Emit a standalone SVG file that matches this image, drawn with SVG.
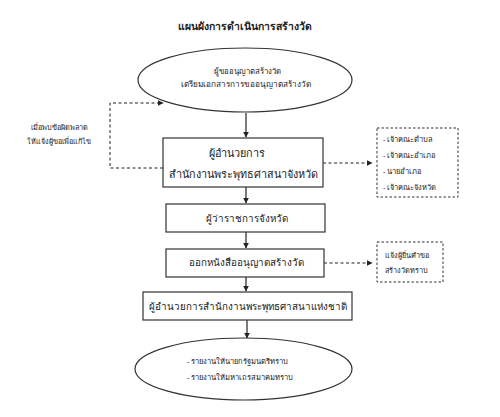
<svg xmlns="http://www.w3.org/2000/svg" width="500" height="417" viewBox="0 0 500 417">
<defs>
<marker id="ah" viewBox="0 0 10 10" refX="9" refY="5" markerWidth="6" markerHeight="6" orient="auto" markerUnits="userSpaceOnUse"><path d="M0,0 L10,5 L0,10 z" fill="#222"/></marker>
<style>
text{font-family:"Noto Sans","DejaVu Sans",sans-serif;fill:#222;font-size:8px}
.t{font-size:10.4px;font-weight:bold;text-anchor:middle}
.m{text-anchor:middle}
.b2{font-size:10.8px;text-anchor:middle}
.big{font-size:9.8px;text-anchor:middle}
.sm{font-size:7.5px}
.box{fill:#fff;stroke:#333;stroke-width:1.2}
.dbox{fill:#fff;stroke:#333;stroke-width:1;stroke-dasharray:2.5,2}
.c{stroke:#222;stroke-width:1.2;fill:none;marker-end:url(#ah)}
.d{stroke:#222;stroke-width:1;fill:none;stroke-dasharray:3,2.5}
</style>
</defs>
<rect width="500" height="417" fill="#fff"/>
<text class="t" x="245" y="30">แผนผังการดำเนินการสร้างวัด</text>

<g id="connectors">
<line class="c" x1="246" y1="113" x2="246" y2="137"/>
<line class="c" x1="246" y1="187" x2="246" y2="203"/>
<line class="c" x1="246" y1="232" x2="246" y2="248"/>
<line class="c" x1="246" y1="277" x2="246" y2="291"/>
<line class="c" x1="247" y1="320" x2="247" y2="338"/>
<polyline class="d" points="163,168 110,168 110,103 163,103" marker-end="url(#ah)"/>
<line class="d" x1="323" y1="163" x2="372" y2="163" marker-end="url(#ah)"/>
<line class="d" x1="324" y1="263" x2="372" y2="263" marker-end="url(#ah)"/>
</g>

<g id="n1">
<ellipse cx="245" cy="80" rx="107" ry="32" fill="#fff" stroke="#333" stroke-width="1.2"/>
<text class="m" x="247" y="74" style="font-size:7.8px">ผู้ขออนุญาตสร้างวัด</text>
<text class="m" x="246" y="87" style="font-size:8.2px">เตรียมเอกสารการขออนุญาตสร้างวัด</text>
</g>

<g id="note">
<text class="sm m" x="59" y="130" style="font-size:7.3px">เมื่อพบข้อผิดพลาด</text>
<text class="sm m" x="59" y="144" style="font-size:7.3px">ให้แจ้งผู้ขอเพื่อแก้ไข</text>
</g>

<g id="n2">
<rect class="box" x="163" y="138" width="160" height="49"/>
<text class="b2" x="237" y="157">ผู้อำนวยการ</text>
<text class="b2" x="243" y="178">สำนักงานพระพุทธศาสนาจังหวัด</text>
</g>

<g id="n2r">
<rect class="dbox" x="377" y="128" width="81" height="69"/>
<text class="sm" x="383" y="142">- เจ้าคณะตำบล</text>
<text class="sm" x="383" y="158">- เจ้าคณะอำเภอ</text>
<text class="sm" x="383" y="174">- นายอำเภอ</text>
<text class="sm" x="383" y="190">- เจ้าคณะจังหวัด</text>
</g>

<g id="n3">
<rect class="box" x="166" y="204" width="159" height="28"/>
<text class="big" x="247" y="222">ผู้ว่าราชการจังหวัด</text>
</g>

<g id="n4">
<rect class="box" x="166" y="249" width="158" height="28"/>
<text class="big" x="246" y="266">ออกหนังสืออนุญาตสร้างวัด</text>
</g>

<g id="n4r">
<rect class="dbox" x="377" y="242" width="66" height="40"/>
<text class="sm" x="385" y="258" style="font-size:7.3px">แจ้งผู้ยื่นคำขอ</text>
<text class="sm" x="385" y="273" style="font-size:7.3px">สร้างวัดทราบ</text>
</g>

<g id="n5">
<rect class="box" x="143" y="292" width="209" height="28"/>
<text class="big" x="248" y="310">ผู้อำนวยการสำนักงานพระพุทธศาสนาแห่งชาติ</text>
</g>

<g id="n6">
<ellipse cx="243.5" cy="369" rx="108.5" ry="31" fill="#fff" stroke="#333" stroke-width="1.2"/>
<text x="187" y="364" style="font-size:7.6px">- รายงานให้นายกรัฐมนตรีทราบ</text>
<text x="187" y="380" style="font-size:7.6px">- รายงานให้มหาเถรสมาคมทราบ</text>
</g>
</svg>
